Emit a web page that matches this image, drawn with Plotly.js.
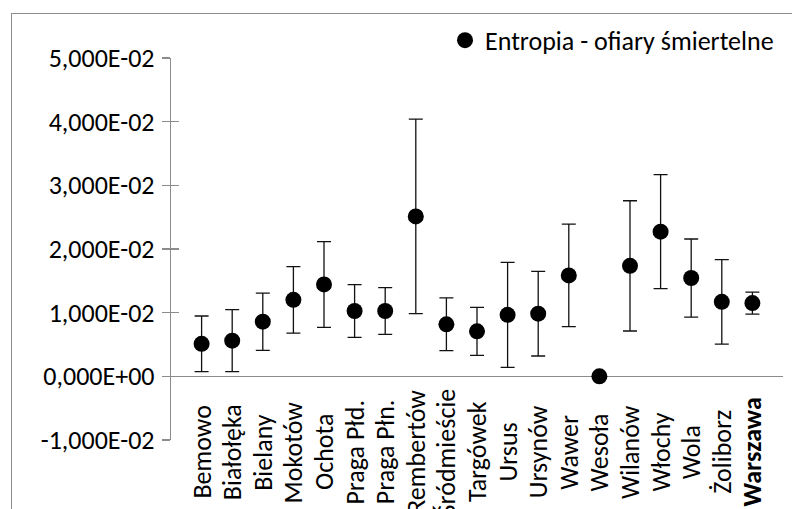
<!DOCTYPE html>
<html>
<head>
<meta charset="utf-8">
<script src="https://cdn.plot.ly/plotly-3.0.1.min.js"></script>
<style>
html,body{margin:0;padding:0;background:#fff;overflow:hidden;}
#wrap{position:relative;width:792px;height:509px;}
#frame{position:absolute;left:11px;top:13px;width:800px;height:600px;border:1px solid #8c8c8c;pointer-events:none;}
#chart{position:absolute;left:0;top:0;width:792px;height:509px;}
</style>
</head>
<body>
<div id="wrap"><div id="frame"></div><div id="chart"></div></div>
<script>
const categories = ["Bemowo","Białołęka","Bielany","Mokotów","Ochota","Praga Płd.","Praga Płn.","Rembertów","Śródmieście","Targówek","Ursus","Ursynów","Wawer","Wesoła","Wilanów","Włochy","Wola","Żoliborz","Warszawa"];
const entropyValues = [0.00511,0.00560,0.00858,0.01201,0.01443,0.01026,0.01026,0.02512,0.00817,0.00707,0.00966,0.00984,0.01585,0.0,0.01735,0.02272,0.01544,0.01170,0.01150];
const errorValues = [0.00437,0.00487,0.00450,0.00521,0.00673,0.00414,0.00367,0.01528,0.00414,0.00377,0.00825,0.00665,0.00805,0.0,0.01023,0.00895,0.00613,0.00663,0.00173];
const yTickVals = [-0.01,0,0.01,0.02,0.03,0.04,0.05];
const yTickText = ["-1,000E-02","0,000E+00","1,000E-02","2,000E-02","3,000E-02","4,000E-02","5,000E-02"];
const seriesName = "Entropia - ofiary śmiertelne";

const FONT = "Calibri, Carlito, 'Open Sans', sans-serif";
const FS = 26;
const xs = categories.map((c,i)=>i+1);

const trace = {
  type:'scatter', mode:'markers', name:seriesName,
  x: xs, y: entropyValues,
  marker:{color:'#000', size:16, symbol:'circle'},
  error_y:{type:'data', array:errorValues, symmetric:true, visible:true, color:'#111', thickness:1.3, width:7},
  showlegend:true
};
const dummy = {type:'scatter', mode:'markers', x:[], y:[], yaxis:'y2', showlegend:false, hoverinfo:'skip'};

const annotations = categories.map((c,i)=>({
  x: i+1, xref:'x', y: -0.0314, yref:'paper',
  text: c === "Warszawa" ? "<b>"+c+"</b>" : c,
  textangle:-90, showarrow:false, xanchor:'center', yanchor:'middle',
  font:{family:FONT, size:FS, color:'#000'}
}));

const layout = {
  width:792, height:509,
  margin:{l:171, r:9, t:58, b:69, pad:0},
  paper_bgcolor:'rgba(0,0,0,0)', plot_bgcolor:'rgba(0,0,0,0)',
  font:{family:FONT, size:FS, color:'#000'},
  xaxis:{range:[0,20], showgrid:false, zeroline:false, showline:false, showticklabels:false, ticks:'', fixedrange:true},
  yaxis:{range:[-0.01,0.05], tickvals:yTickVals, ticktext:yTickText, showgrid:false,
         zeroline:true, zerolinecolor:'#8c8c8c', zerolinewidth:1.3,
         showline:true, linecolor:'#8c8c8c', linewidth:1.3,
         ticks:'outside', ticklen:8, tickcolor:'#8c8c8c', tickwidth:1.3, ticklabelstandoff:2,
         tickfont:{family:FONT, size:FS, color:'#000'}},
  yaxis2:{range:[-0.01,0.05], overlaying:'y', side:'left', tickvals:yTickVals, showticklabels:false,
          ticks:'inside', ticklen:8, tickcolor:'#8c8c8c', tickwidth:1.3, showgrid:false, zeroline:false, showline:false},
  showlegend:true,
  legend:{x:0.9935, xanchor:'right', y:1.108, yanchor:'top', bgcolor:'rgba(0,0,0,0)',
          font:{family:FONT, size:FS, color:'#000'}, itemwidth:30},
  annotations: annotations
};

Plotly.newPlot('chart',[trace,dummy],layout,{staticPlot:true, displayModeBar:false});
</script>
</body>
</html>
